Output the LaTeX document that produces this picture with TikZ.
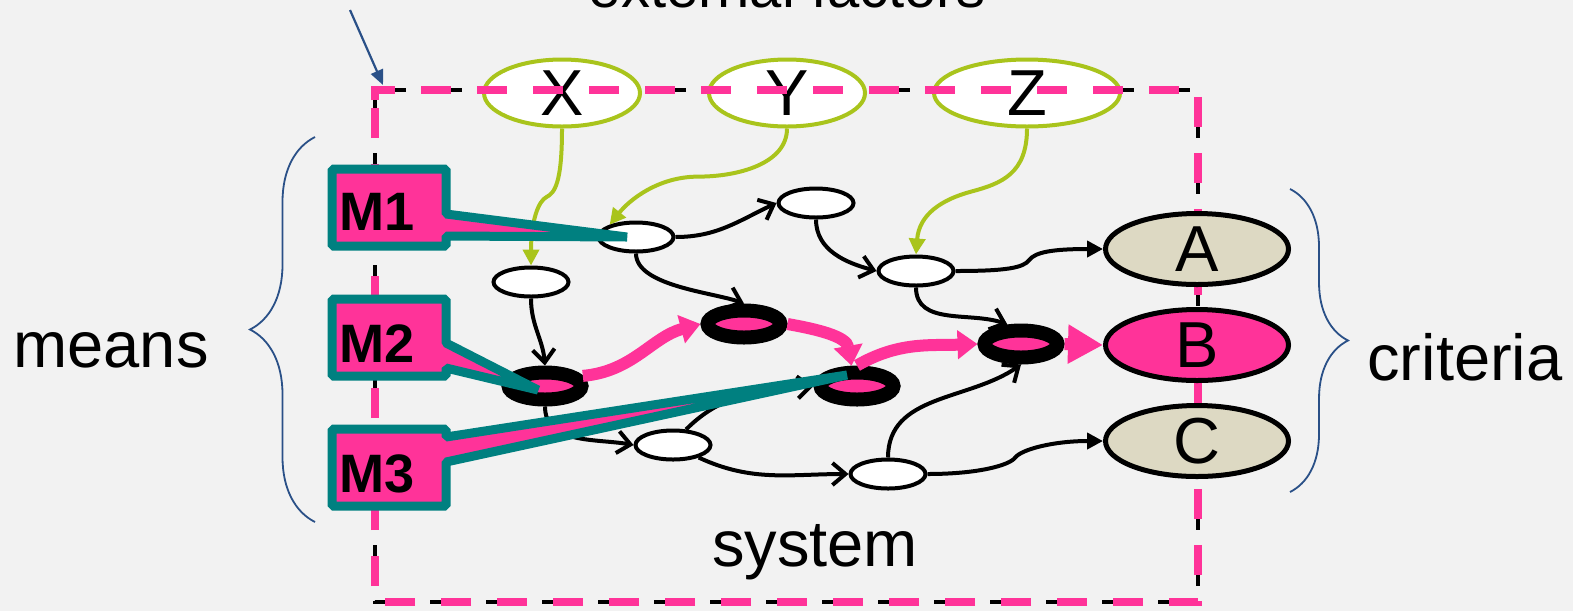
\documentclass[tikz,border=0pt]{standalone}
\usepackage{fontspec}
\setmainfont{Liberation Sans}
\usepackage{tikz}
\usetikzlibrary{arrows.meta,shapes.geometric,positioning,calc,decorations.pathreplacing}
\definecolor{bgGray}{HTML}{F2F2F2}
\definecolor{hotPink}{HTML}{FF3399}
\definecolor{calloutTeal}{HTML}{008080}
\definecolor{critTan}{HTML}{DDD9C3}
\definecolor{extGreen}{HTML}{A9C41C}
\definecolor{noteBlue}{HTML}{2A5087}

\begin{document}
\begin{tikzpicture}[x=0.1mm, y=0.1mm,
  big/.style={font=\fontsize{18.5}{22}\selectfont},
  ext/.style={ellipse, draw=extGreen, line width=0.4mm, fill=white, minimum width=15.6mm, minimum height=6.7mm, inner sep=0pt, big},
  crit/.style={ellipse, draw=black, line width=0.5mm, fill=critTan, minimum width=18.3mm, minimum height=7.1mm, inner sep=0pt, big},
  var/.style={ellipse, draw=black, line width=0.4mm, fill=white, minimum width=7.5mm, minimum height=2.9mm, inner sep=0pt},
  hot/.style={var, line width=1.4mm, fill=hotPink, minimum width=7.3mm, minimum height=2.7mm},
  link/.style={line width=0.4mm, -{Straight Barb[length=1.3mm,width=2.2mm]}},
  outlink/.style={line width=0.4mm, -{Triangle[length=1.6mm,width=1.6mm]}},
  extlink/.style={line width=0.4mm, draw=extGreen, -{Triangle[length=1.6mm,width=1.6mm]}},
  hotlink/.style={line width=1.2mm, draw=hotPink, -{Triangle[length=2mm,width=2.8mm]}},
  callout/.style={draw=calloutTeal, fill=hotPink, line width=0.9mm, line join=bevel},
  mlabel/.style={font=\fontsize{15.4}{18}\selectfont\bfseries, inner sep=0pt, anchor=base west},
  bracket/.style={draw=noteBlue, line width=0.18mm, decorate, decoration={brace, amplitude=6.5mm}},
  frame/.style={line width=0.38mm, dash pattern=on 3.6mm off 2mm, dash phase=5.1mm}
]
\useasboundingbox (0,0) rectangle (1573,-611);
\fill[bgGray] (0,0) rectangle (1573,-611);

\coordinate (sysnw) at (375,-90);
\coordinate (sysse) at (1198,-602);
\draw[frame] ($(sysnw)+(0,-10)$) -- (sysnw) -- (sysnw -| sysse) -- (sysse) -- (sysnw |- sysse) -- cycle;

\node[ext] (X) at (562,-93) {X};
\node[ext] (Y) at (787,-93) {Y};
\node[ext, minimum width=18.6mm] (Z) at (1027,-93) {Z};

\draw[frame, draw=hotPink, line width=0.75mm, dash pattern=on 3mm off 2.6mm, dash phase=0mm]
  ($(sysnw)+(0,-10)$) -- (sysnw) -- (sysnw -| sysse) -- (sysse) -- (sysnw |- sysse) -- cycle;

\node[crit] (A) at (1197,-249) {A};
\node[crit, fill=hotPink] (B) at (1197,-345) {B};
\node[crit] (C) at (1197,-441) {C};

\foreach \n/\x/\y in {n1/636/237, n2/816/203, n3/916/271, n4/531/282, n5/673/445, n6/888/474}
  \node[var] (\n) at (\x,-\y) {};
\foreach \n/\x/\y in {p1/545/386, p2/744/324, p3/857/386, p4/1021/344}
  \node[hot] (\n) at (\x,-\y) {};

\draw[link] (n1.east) to[out=0,in=205] (n2.west);
\draw[link] (n1.south) to[out=-90,in=160,looseness=0.7] (p2.north);
\draw[link] (n2.south) to[out=-90,in=165] (n3.west);
\draw[link] (n3.south) to[out=-90,in=160] (p4.125);
\draw[link] (n4.south) to[out=-90,in=95] (p1.north);
\draw[link] (p1.south) to[out=-90,in=170] (n5.west);
\draw[link] (n5.50) to[out=45,in=185] (p3.west);
\draw[link] (n5.334) to[out=-25,in=180] (n6.west);
\draw[link] (n6.north) to[out=90,in=215] (p4.south);
\foreach \a/\b in {n3/A, n6/C}
  \draw[outlink] (\a.east) .. controls +(50,0) and +(-6,-8) .. ($(\a.east)!.5!(\b.west)$)
    .. controls +(6,8) and +(-50,0) .. (\b.west);

\draw[hotlink] (p1.15) to[out=5,in=195] (p2.west);
\draw[hotlink] (p2.east) to[out=-10,in=100] (p3.105);
\draw[hotlink] (p3.north) to[out=30,in=182] (p4.west);
\draw[hotlink, -{Triangle[length=3.5mm,width=3.7mm]}] (p4.east) -- (B.west);

\draw[extlink] (X.south) .. controls +(0,-55) and +(8,4) .. ($(X.south)!.5!(n4.north)$)
  .. controls +(-8,-4) and +(0,45) .. (n4.north);
\draw[extlink] (Y.south) .. controls +(0,-35) and +(40,0) .. ($(Y.south)!.5!(n1.155)$)
  .. controls +(-40,0) and +(20,25) .. (n1.155);
\draw[extlink] (Z.south) .. controls +(0,-45) and +(30,8) .. ($(Z.south)!.5!(n3.north)$)
  .. controls +(-30,-8) and +(3,40) .. (n3.north);

\foreach \t/\ba/\bb/\b/\n/\dx/\dy in {169/214/236/246/n1/-9/0, 299/343/368/376/p1/-7/-4, 429/437/462/506/p3/-10/11}
  \filldraw[callout] (332,-\t) -- (446,-\t) -- (446,-\ba) -- ($(\n)+(\dx,\dy)$) -- (446,-\bb) -- (446,-\b) -- (332,-\b) -- cycle;
\foreach \i/\y in {1/230, 2/362, 3/492}
  \node[mlabel] (m\i) at (339,-\y) {M\i};

\draw[bracket] (315,-522) -- (315,-137);
\draw[bracket, decoration={amplitude=5.8mm}] (1290,-189) -- (1290,-492);

\node[big, anchor=base] (means) at (111,-367) {means};
\node[big, anchor=base] (criteria) at (1465,-380) {criteria};
\node[big, anchor=base] (system) at (815,-566) {system};
\node[font=\fontsize{16.5}{20}\selectfont, anchor=base] (extf) at (787,-7) {external factors};

\coordinate (note) at (350,-10);
\draw[noteBlue, line width=0.22mm, -{Triangle[length=1.5mm,width=1.3mm]}] (note) -- ($(sysnw)+(8,5)$);
\end{tikzpicture}
\end{document}
